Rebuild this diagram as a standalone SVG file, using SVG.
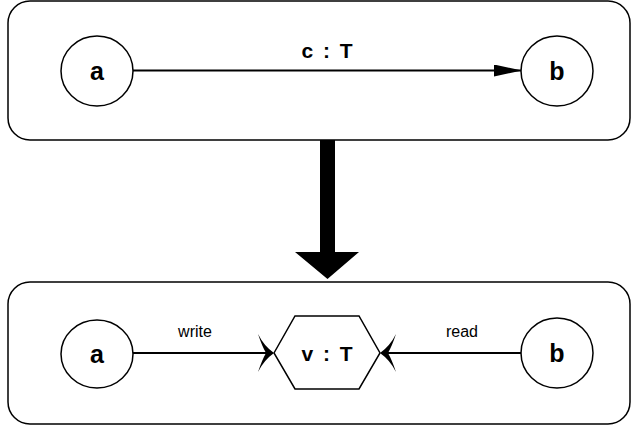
<svg xmlns="http://www.w3.org/2000/svg" width="637" height="430" viewBox="0 0 637 430">
  <style>
    .frame { fill: #fff; stroke: #000; stroke-width: 1.5; }
    .node { fill: #fff; stroke: #000; stroke-width: 1.5; }
    .edge { fill: none; stroke: #000; stroke-width: 2; }
    .lbl { font-family: "Liberation Sans", Arial, sans-serif; text-anchor: middle; fill: #000; }
    .big { font-size: 25px; font-weight: bold; }
    .name { font-size: 21px; font-weight: bold; word-spacing: 4px; }
    .small { font-size: 16px; }
  </style>
  <defs>
    <marker id="tri" markerWidth="28" markerHeight="12" refX="28" refY="6" orient="auto" markerUnits="userSpaceOnUse">
      <path d="M0,0 L28,6 L0,12 Z" fill="#000"/>
    </marker>
  </defs>

  <!-- upper frame: channel view -->
  <g id="frame-top">
    <rect class="frame" x="8" y="1" width="622" height="139" rx="22" ry="22"/>
  </g>
  <!-- lower frame: variable view -->
  <g id="frame-bottom">
    <rect class="frame" x="8" y="282" width="622" height="142" rx="22" ry="22"/>
  </g>

  <g id="connectors">
    <!-- c : T channel -->
    <line class="edge" x1="133" y1="70.5" x2="522" y2="70.5" marker-end="url(#tri)"/>
    <!-- write / read edges -->
    <line class="edge" x1="133" y1="353" x2="268" y2="353"/>
    <line class="edge" x1="386" y1="353" x2="522" y2="353"/>
    <!-- barbed heads at the variable -->
    <path d="M274,353 Q264,346 258,334 Q262,346 266,353 Q262,360 258,372 Q264,360 274,353 Z" fill="#000"/>
    <path d="M380,353 Q390,346 396,334 Q392,346 388,353 Q392,360 396,372 Q390,360 380,353 Z" fill="#000"/>
    <!-- refinement arrow -->
    <path d="M320,140 L335,140 L335,252 L359,252 L327.5,279 L295,252 L320,252 Z" fill="#000"/>
  </g>

  <g id="label-c">
    <text class="lbl name" x="327" y="58">c : T</text>
  </g>

  <g id="a-top">
    <ellipse class="node" cx="97" cy="71" rx="36" ry="35"/>
    <text class="lbl big" x="97" y="80">a</text>
  </g>
  <g id="b-top">
    <ellipse class="node" cx="557" cy="71" rx="36" ry="35"/>
    <text class="lbl big" x="557" y="80">b</text>
  </g>

  <g id="a-bottom">
    <ellipse class="node" cx="97" cy="354" rx="36" ry="34"/>
    <text class="lbl big" x="97" y="363">a</text>
  </g>
  <g id="b-bottom">
    <ellipse class="node" cx="557" cy="353" rx="36" ry="35"/>
    <text class="lbl big" x="557" y="362">b</text>
  </g>

  <g id="v">
    <polygon class="node" points="274,353 295,316 359,316 380,353 359,389 295,389"/>
    <text class="lbl name" x="327" y="361">v : T</text>
  </g>

  <g id="label-write">
    <text class="lbl small" x="195" y="337">write</text>
  </g>
  <g id="label-read">
    <text class="lbl small" x="462" y="337">read</text>
  </g>
</svg>
